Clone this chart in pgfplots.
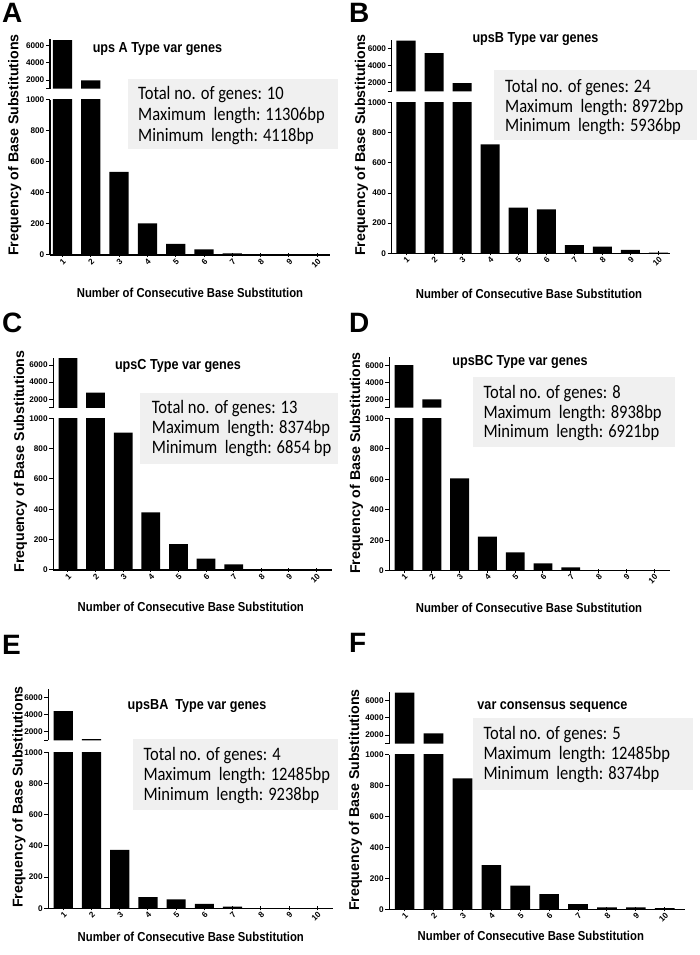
\documentclass[border=0pt]{standalone}
\usepackage{fontspec}
\setmainfont{Liberation Sans}
\newfontfamily\condb{Liberation Sans}[FakeStretch=0.87]
\newfontfamily\boxf{Carlito}[FakeStretch=0.87]
\usepackage{pgfplots}
\usepackage{pgfplotstable}
\pgfplotsset{compat=1.18}
\definecolor{boxgray}{RGB}{240,240,240}
\newcommand\tickf{\bfseries\fontsize{8.2}{9}\selectfont}
\newcommand\ylf{\bfseries\fontsize{14.2}{16}\selectfont}
\newcommand\xlf{\condb\bfseries\fontsize{13}{15}\selectfont}
\newcommand\titlef{\condb\bfseries\fontsize{14.5}{16}\selectfont}
\newcommand\letterf{\bfseries\fontsize{28}{30}\selectfont}
\newcommand\boxtf{\boxf\fontsize{19}{21}\selectfont}

\pgfplotstableread{
x y
1 6650
2 1950
3 537
4 204
5 71
6 37
7 11
8 2
9 3
10 5
}\dataA
\pgfplotstableread{
x y
1 6880
2 5420
3 1950
4 724
5 303
6 292
7 55
8 44
9 22
10 5
}\dataB
\pgfplotstableread{
x y
1 6800
2 2770
3 905
4 380
5 171
6 75
7 37
8 3
9 4
10 5
}\dataC
\pgfplotstableread{
x y
1 6080
2 2000
3 606
4 223
5 121
6 48
7 22
8 2
9 3
10 1
}\dataD
\pgfplotstableread{
x y
1 4380
2 1150
3 374
4 71
5 58
6 28
7 10
8 1
9 1
10 1
}\dataE
\pgfplotstableread{
x y
1 6950
2 2200
3 849
4 287
5 153
6 99
7 34
8 12
9 12
10 8
}\dataF

\pgfplotsset{
  basebar/.style={scale only axis, ybar, bar width=0.68, bar shift=0pt,
    axis y line=left,
    tick align=outside, tick style={line width=1pt, black}, major tick length=4pt,
    scaled y ticks=false, yticklabel style={font=\tickf, inner sep=1.5pt},
    anchor=south west},
  low/.style={basebar, axis x line=bottom, ymin=0, ymax=1000,
    ytick={0,200,400,600,800,1000}, yticklabels={0,200,400,600,800,1000},
    xtick={1,2,3,4,5,6,7,8,9,10}, xticklabels={1,2,3,4,5,6,7,8,9,10},
    xticklabel style={font=\tickf, rotate=45, anchor=north east, inner sep=0.5pt},
    every outer x axis line/.style={-, line width=1.4pt},
    every outer y axis line/.style={-, line width=1.4pt},
    axis line style={-, line width=1.4pt}},
  up/.style={basebar, axis x line=none, ymin=1000,
    ytick={1000,2000,4000,6000}, yticklabels={,2000,4000,6000},
    restrict y to domain=1000:100000,
    every outer y axis line/.style={-, line width=1.4pt},
    axis line style={-, line width=1.4pt}},
  barsty/.style={fill=black, draw=none},
}

\begin{document}
\begin{tikzpicture}[x=1pt,y=1pt]
\useasboundingbox (0,0) rectangle (699,955);

% ---------- info boxes ----------
\fill[boxgray] (128,{955-79}) rectangle (338,{955-149});
\node[anchor=base west, inner sep=0, font=\boxtf] at (138,{955-100}) {Total no. of genes: 10};
\node[anchor=base west, inner sep=0, font=\boxtf] at (138,{955-121}) {Maximum~ length: 11306bp};
\node[anchor=base west, inner sep=0, font=\boxtf] at (138,{955-142}) {Minimum~ length: 4118bp};

\fill[boxgray] (494,{955-70}) rectangle (697,{955-140});
\node[anchor=base west, inner sep=0, font=\boxtf] at (505,{955-92.7}) {Total no. of genes: 24};
\node[anchor=base west, inner sep=0, font=\boxtf] at (505,{955-112.7}) {Maximum~ length: 8972bp};
\node[anchor=base west, inner sep=0, font=\boxtf] at (505,{955-131.7}) {Minimum~ length: 5936bp};

\fill[boxgray] (140,{955-392.7}) rectangle (338.3,{955-464});
\node[anchor=base west, inner sep=0, font=\boxtf] at (151.7,{955-413.3}) {Total no. of genes: 13};
\node[anchor=base west, inner sep=0, font=\boxtf] at (151.7,{955-434}) {Maximum~ length: 8374bp};
\node[anchor=base west, inner sep=0, font=\boxtf] at (151.7,{955-453.3}) {Minimum~ length: 6854 bp};

\fill[boxgray] (473.3,{955-376.7}) rectangle (675,{955-447.3});
\node[anchor=base west, inner sep=0, font=\boxtf] at (483.3,{955-398.3}) {Total no. of genes: 8};
\node[anchor=base west, inner sep=0, font=\boxtf] at (483.3,{955-418.3}) {Maximum~ length: 8938bp};
\node[anchor=base west, inner sep=0, font=\boxtf] at (483.3,{955-437.7}) {Minimum~ length: 6921bp};

\fill[boxgray] (133.3,{955-739.3}) rectangle (338.3,{955-810});
\node[anchor=base west, inner sep=0, font=\boxtf] at (143.3,{955-760.7}) {Total no. of genes: 4};
\node[anchor=base west, inner sep=0, font=\boxtf] at (143.3,{955-780.7}) {Maximum~ length: 12485bp};
\node[anchor=base west, inner sep=0, font=\boxtf] at (143.3,{955-800.7}) {Minimum~ length: 9238bp};

\fill[boxgray] (473.3,{955-718.3}) rectangle (693.3,{955-790});
\node[anchor=base west, inner sep=0, font=\boxtf] at (483.3,{955-740}) {Total no. of genes: 5};
\node[anchor=base west, inner sep=0, font=\boxtf] at (483.3,{955-760}) {Maximum~ length: 12485bp};
\node[anchor=base west, inner sep=0, font=\boxtf] at (483.3,{955-780}) {Minimum~ length: 8374bp};

% ---------- Panel A ----------
\begin{axis}[low, at={(50pt,700pt)}, width=280pt, height=155pt, xmin=0.56, xmax=10.45]
\addplot[barsty] table[x=x,y=y]{\dataA};
\end{axis}
\begin{axis}[up, at={(50pt,866.4pt)}, width=280pt, height=49.1pt, xmin=0.56, xmax=10.45, ymax=6730]
\addplot[barsty] table[x=x,y=y]{\dataA};
\end{axis}

% ---------- Panel B ----------
\begin{axis}[low, at={(391.7pt,701.7pt)}, width=278.3pt, height=150.6pt, xmin=0.49, xmax=10.41]
\addplot[barsty] table[x=x,y=y]{\dataB};
\end{axis}
\begin{axis}[up, at={(391.7pt,863.7pt)}, width=278.3pt, height=51.3pt, xmin=0.49, xmax=10.41, ymax=6950]
\addplot[barsty] table[x=x,y=y]{\dataB};
\end{axis}

% ---------- Panel C ----------
\begin{axis}[low, at={(53.3pt,385pt)}, width=278.4pt, height=151.7pt, xmin=0.47, xmax=10.55]
\addplot[barsty] table[x=x,y=y]{\dataC};
\end{axis}
\begin{axis}[up, at={(53.3pt,547.1pt)}, width=278.4pt, height=50.2pt, xmin=0.47, xmax=10.55, ymax=6855]
\addplot[barsty] table[x=x,y=y]{\dataC};
\end{axis}

% ---------- Panel D ----------
\begin{axis}[low, at={(389.3pt,384.3pt)}, width=280.7pt, height=152.4pt, xmin=0.47, xmax=10.57]
\addplot[barsty] table[x=x,y=y]{\dataD};
\end{axis}
\begin{axis}[up, at={(389.3pt,547.3pt)}, width=280.7pt, height=51pt, xmin=0.47, xmax=10.57, ymax=7070]
\addplot[barsty] table[x=x,y=y]{\dataD};
\end{axis}

% ---------- Panel E ----------
\begin{axis}[low, at={(48.3pt,46.7pt)}, width=285pt, height=156pt, xmin=0.47, xmax=10.57]
\addplot[barsty] table[x=x,y=y]{\dataE};
\end{axis}
\begin{axis}[up, at={(48.3pt,214.7pt)}, width=285pt, height=51pt, xmin=0.47, xmax=10.57, ymax=6930]
\addplot[barsty] table[x=x,y=y]{\dataE};
\end{axis}

% ---------- Panel F ----------
\begin{axis}[low, at={(389.3pt,45.7pt)}, width=295.7pt, height=154.3pt, xmin=0.47, xmax=10.7]
\addplot[barsty] table[x=x,y=y]{\dataF};
\end{axis}
\begin{axis}[up, at={(389.3pt,211.4pt)}, width=295.7pt, height=51.3pt, xmin=0.47, xmax=10.7, ymax=6980]
\addplot[barsty] table[x=x,y=y]{\dataF};
\end{axis}

% ---------- panel letters ----------
\node[anchor=base west, inner sep=0, font=\letterf] at (2,{955-23}) {A};
\node[anchor=base west, inner sep=0, font=\letterf] at (349,{955-23}) {B};
\node[anchor=base west, inner sep=0, font=\letterf] at (2,{955-333}) {C};
\node[anchor=base west, inner sep=0, font=\letterf] at (349,{955-333}) {D};
\node[anchor=base west, inner sep=0, font=\letterf] at (2,{955-655}) {E};
\node[anchor=base west, inner sep=0, font=\letterf] at (349,{955-653}) {F};

% ---------- titles ----------
\node[anchor=base, inner sep=0, font=\titlef] at (157.5,{955-53}) {ups A Type var genes};
\node[anchor=base, inner sep=0, font=\titlef] at (535.5,{955-43}) {upsB Type var genes};
\node[anchor=base, inner sep=0, font=\titlef] at (178,{955-369.3}) {upsC Type var genes};
\node[anchor=base, inner sep=0, font=\titlef] at (520,{955-366}) {upsBC Type var genes};
\node[anchor=base, inner sep=0, font=\titlef] at (197,{955-709.3}) {upsBA~ Type var genes};
\node[anchor=base, inner sep=0, font=\titlef] at (552.5,{955-710}) {var consensus sequence};

% ---------- y labels ----------
\node[rotate=90, anchor=base, inner sep=0, font=\ylf] at (18.3,{955-145}) {Frequency of Base Substitutions};
\node[rotate=90, anchor=base, inner sep=0, font=\ylf] at (365,{955-145}) {Frequency of Base Substitutions};
\node[rotate=90, anchor=base, inner sep=0, font=\ylf] at (24,{955-461.5}) {Frequency of Base Substitutions};
\node[rotate=90, anchor=base, inner sep=0, font=\ylf] at (360,{955-463}) {Frequency of Base Substitutions};
\node[rotate=90, anchor=base, inner sep=0, font=\ylf] at (22.5,{955-797}) {Frequency of Base Substitutions};
\node[rotate=90, anchor=base, inner sep=0, font=\ylf] at (359,{955-800}) {Frequency of Base Substitutions};

% ---------- x labels ----------
\node[anchor=base, inner sep=0, font=\xlf] at (190,{955-297.7}) {Number of Consecutive Base Substitution};
\node[anchor=base, inner sep=0, font=\xlf] at (529,{955-298.3}) {Number of Consecutive Base Substitution};
\node[anchor=base, inner sep=0, font=\xlf] at (190.8,{955-612}) {Number of Consecutive Base Substitution};
\node[anchor=base, inner sep=0, font=\xlf] at (529,{955-612.6}) {Number of Consecutive Base Substitution};
\node[anchor=base, inner sep=0, font=\xlf] at (190.8,{955-941.7}) {Number of Consecutive Base Substitution};
\node[anchor=base, inner sep=0, font=\xlf] at (530.8,{955-941}) {Number of Consecutive Base Substitution};
\end{tikzpicture}
\end{document}
